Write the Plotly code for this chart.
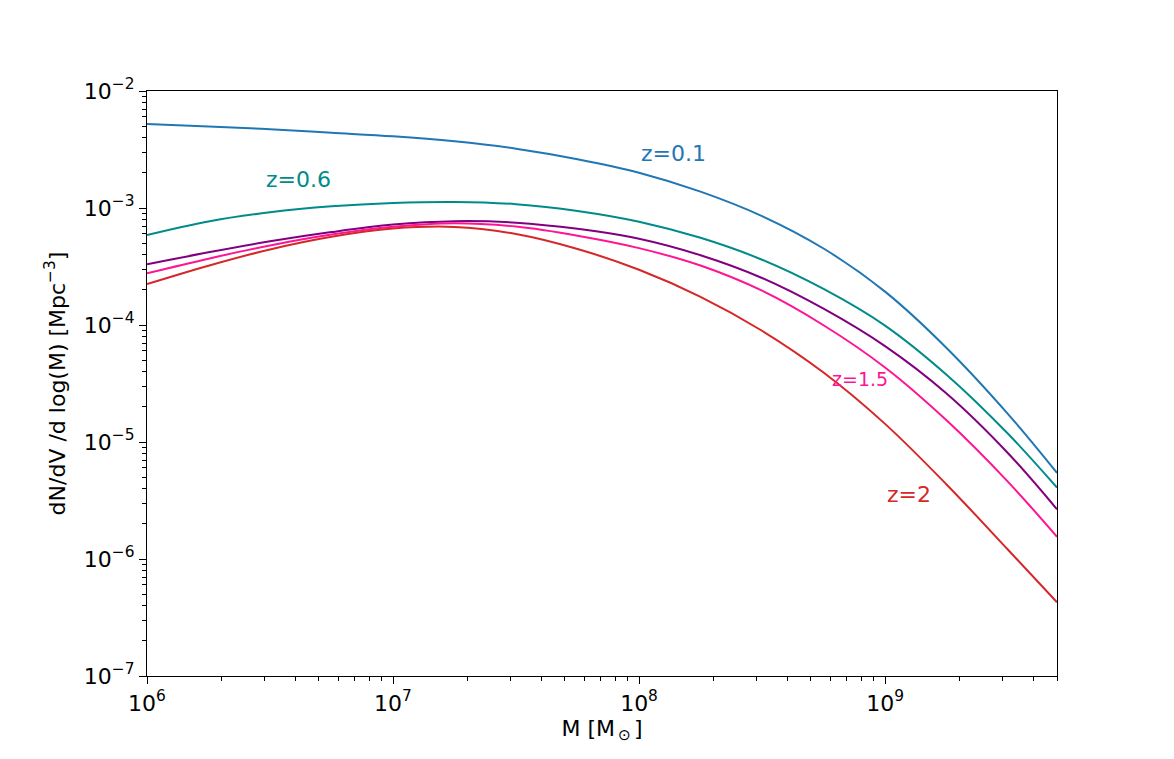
import numpy as np
import plotly.graph_objects as go

# Halo mass [M_sun] (quarter-decade steps)
mass = [1.000e6, 1.778e6, 3.162e6, 5.623e6, 1.000e7, 1.778e7, 3.162e7, 5.623e7,
        1.000e8, 1.778e8, 3.162e8, 5.623e8, 1.000e9, 1.778e9, 3.162e9, 5.000e9]

# log10 of dN/dV/dlogM [Mpc^-3] for each redshift
log_n_z01 = [-2.282, -2.303, -2.327, -2.357, -2.387, -2.430, -2.493, -2.583,
             -2.698, -2.860, -3.069, -3.346, -3.715, -4.196, -4.761, -5.264]
log_n_z06 = [-3.231, -3.115, -3.037, -2.986, -2.957, -2.948, -2.967, -3.025,
             -3.117, -3.255, -3.442, -3.692, -4.005, -4.425, -4.930, -5.390]
log_n_z10 = [-3.481, -3.379, -3.285, -3.206, -3.142, -3.113, -3.125, -3.178,
             -3.263, -3.404, -3.598, -3.861, -4.181, -4.586, -5.096, -5.575]
log_n_z15 = [-3.558, -3.433, -3.320, -3.227, -3.160, -3.130, -3.159, -3.237,
             -3.343, -3.492, -3.707, -4.002, -4.363, -4.815, -5.341, -5.810]
log_n_z20 = [-3.650, -3.493, -3.354, -3.246, -3.176, -3.162, -3.222, -3.350,
             -3.528, -3.759, -4.049, -4.406, -4.845, -5.363, -5.921, -6.370]

series = [
    ("z=0.1", log_n_z01, "#1f77b4"),
    ("z=0.6", log_n_z06, "#008b8b"),
    ("z=1", log_n_z10, "#800080"),
    ("z=1.5", log_n_z15, "#ff1493"),
    ("z=2", log_n_z20, "#d62728"),
]

# text labels: (text, x, y, color, size)
labels = [
    ("z=0.1", 1.0e8, 2.2e-3, "#1f77b4", 22),
    ("z=0.6", 3.0e6, 1.32e-3, "#008b8b", 22),
    ("z=1.5", 6.0e8, 2.67e-5, "#ff1493", 19),
    ("z=2", 1.0e9, 2.67e-6, "#d62728", 22),
]

x_ticks = [1e6, 1e7, 1e8, 1e9]
x_ticktext = ["10<sup>6</sup>", "10<sup>7</sup>", "10<sup>8</sup>", "10<sup>9</sup>"]
y_ticks = [1e-7, 1e-6, 1e-5, 1e-4, 1e-3, 1e-2]
y_ticktext = ["10<sup>\u22127</sup>", "10<sup>\u22126</sup>", "10<sup>\u22125</sup>",
              "10<sup>\u22124</sup>", "10<sup>\u22123</sup>", "10<sup>\u22122</sup>"]

x_minor = [k * 10.0 ** d for d in range(6, 10) for k in range(2, 10) if k * 10.0 ** d <= 5e9]
y_minor = [k * 10.0 ** d for d in range(-7, -2) for k in range(2, 10)]

fig = go.Figure()
for name, logn, color in series:
    fig.add_trace(go.Scatter(
        x=mass, y=[10.0 ** v for v in logn], mode="lines", name=name,
        line=dict(color=color, width=2, shape="spline", smoothing=1.0),
        showlegend=False,
    ))

for text, xv, yv, color, size in labels:
    fig.add_annotation(
        x=np.log10(xv), y=np.log10(yv), xref="x", yref="y", text=text,
        showarrow=False, xanchor="left", yanchor="bottom",
        font=dict(color=color, size=size, family="DejaVu Sans"),
    )

axis_common = dict(
    showline=True, linecolor="black", linewidth=1.3, mirror=True,
    ticks="outside", ticklen=7, tickwidth=1.2, tickcolor="black",
    showgrid=False, zeroline=False,
    tickfont=dict(size=22, color="black", family="DejaVu Sans"),
)

fig.update_xaxes(
    type="log", range=[6, np.log10(5e9)],
    tickmode="array", tickvals=x_ticks, ticktext=x_ticktext,
    minor=dict(tickmode="array", tickvals=x_minor, ticks="outside", ticklen=4,
               tickwidth=1, tickcolor="black", showgrid=False),
    title=dict(text="M [M<sub>\u2009\u2299\u2009</sub>]",
               font=dict(size=22, color="black", family="DejaVu Sans"), standoff=4),
    **axis_common,
)
fig.update_yaxes(
    type="log", range=[-7, -2],
    tickmode="array", tickvals=y_ticks, ticktext=y_ticktext,
    minor=dict(tickmode="array", tickvals=y_minor, ticks="outside", ticklen=4,
               tickwidth=1, tickcolor="black", showgrid=False),
    title=dict(text="dN/dV /d log(M) [Mpc<sup>\u22123</sup>]",
               font=dict(size=22, color="black", family="DejaVu Sans"), standoff=12),
    **axis_common,
)

fig.update_layout(
    width=1166, height=751,
    margin=dict(l=139, r=117, t=83, b=83),
    paper_bgcolor="white", plot_bgcolor="white",
    font=dict(family="DejaVu Sans", color="black"),
)

fig.write_html("out.html")
